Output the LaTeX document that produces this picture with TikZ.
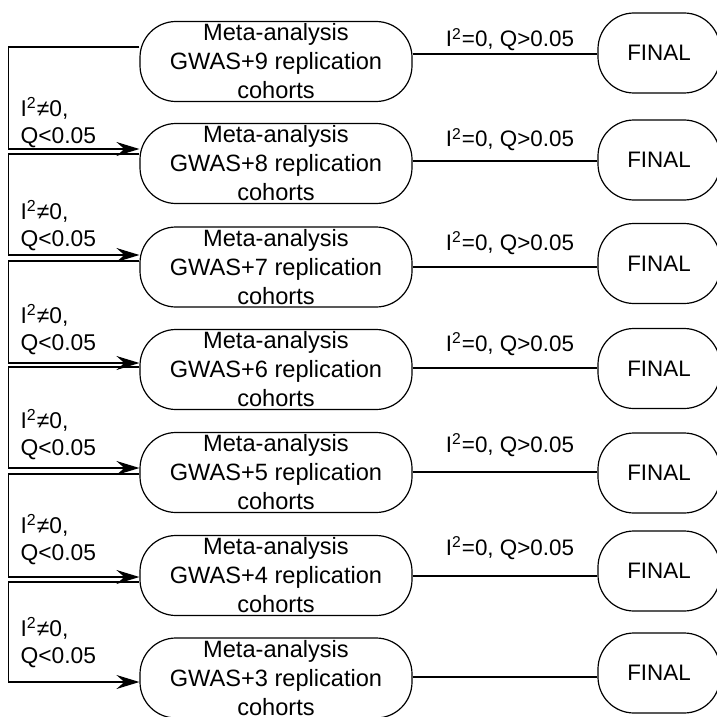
\documentclass[tikz,border=0pt]{standalone}
\usepackage{fontspec}
\setmainfont{Liberation Sans}
\usetikzlibrary{arrows.meta}

\tikzset{
    meta/.style={draw, rounded corners=18pt, minimum width=136pt, minimum height=40pt, inner sep=0pt, align=center, font=\fontsize{11.8}{14.5}\selectfont},
    final/.style={draw, rounded corners=18pt, minimum width=61pt, minimum height=40pt, inner sep=0pt},
    cond/.style={anchor=base, inner sep=0pt},
    retrylabel/.style={anchor=north west, inner sep=0pt, align=left, font=\fontsize{11.4}{13.5}\selectfont},
    retry/.style={-{Stealth[length=11.5pt, width=7pt, inset=4pt]}}
}

\begin{document}
\begin{tikzpicture}[x=0.5pt, y=-0.5pt, line width=0.6pt, font=\fontsize{11.2}{14.5}\selectfont]
    \useasboundingbox (0,0) rectangle (717,717);

    % Meta-analysis steps
    \node[meta] (m9) at (276,61.5) {Meta-analysis\\GWAS+9 replication\\cohorts};
    \node[meta] (m8) at (276,163.5) {Meta-analysis\\GWAS+8 replication\\cohorts};
    \node[meta] (m7) at (276,267) {Meta-analysis\\GWAS+7 replication\\cohorts};
    \node[meta] (m6) at (276,369.5) {Meta-analysis\\GWAS+6 replication\\cohorts};
    \node[meta] (m5) at (276,472.5) {Meta-analysis\\GWAS+5 replication\\cohorts};
    \node[meta] (m4) at (276,575.5) {Meta-analysis\\GWAS+4 replication\\cohorts};
    \node[meta] (m3) at (276,678) {Meta-analysis\\GWAS+3 replication\\cohorts};

    % Final results
    \node[final] (f9) at (659,53) {FINAL};
    \node[final] (f8) at (659,160) {FINAL};
    \node[final] (f7) at (659,263.5) {FINAL};
    \node[final] (f6) at (659,368.5) {FINAL};
    \node[final] (f5) at (659,473) {FINAL};
    \node[final] (f4) at (659,571) {FINAL};
    \node[final] (f3) at (659,673) {FINAL};

    % I^2=0 : straight to final
    \draw (m9.east |- 0,54) -- (f9.west |- 0,54);
    \draw (m8.east |- 0,161) -- (f8.west |- 0,161);
    \draw (m7.east |- 0,267) -- (f7.west |- 0,267);
    \draw (m6.east |- 0,368) -- (f6.west |- 0,368);
    \draw (m5.east |- 0,472) -- (f5.west |- 0,472);
    \draw (m4.east |- 0,576) -- (f4.west |- 0,576);
    \draw (m3.east |- 0,677) -- (f3.west |- 0,677);
    \node[cond] (c9) at (510,47) {I\textsuperscript{2}=0, Q>0.05};
    \node[cond] (c8) at (510,147) {I\textsuperscript{2}=0, Q>0.05};
    \node[cond] (c7) at (510,250) {I\textsuperscript{2}=0, Q>0.05};
    \node[cond] (c6) at (510,351) {I\textsuperscript{2}=0, Q>0.05};
    \node[cond] (c5) at (510,452) {I\textsuperscript{2}=0, Q>0.05};
    \node[cond] (c4) at (510,555) {I\textsuperscript{2}=0, Q>0.05};

    % I^2 != 0 : drop one cohort and redo
    \draw[retry] (m9.west |- 0,47) -- ++(-131,0) |- (m8.west |- 0,149);
    \draw[retry] (m8.west |- 0,154) -- ++(-131,0) |- (m7.west |- 0,255);
    \draw[retry] (m7.west |- 0,261) -- ++(-131,0) |- (m6.west |- 0,363);
    \draw[retry] (m6.west |- 0,367) -- ++(-131,0) |- (m5.west |- 0,468);
    \draw[retry] (m5.west |- 0,474) -- ++(-131,0) |- (m4.west |- 0,577);
    \draw[retry] (m4.west |- 0,582) -- ++(-131,0) |- (m3.west |- 0,682);
    \node[retrylabel] (r8) at (20,97) {I\textsuperscript{2}≠0,\\Q<0.05};
    \node[retrylabel] (r7) at (20,200) {I\textsuperscript{2}≠0,\\Q<0.05};
    \node[retrylabel] (r6) at (20,304) {I\textsuperscript{2}≠0,\\Q<0.05};
    \node[retrylabel] (r5) at (20,409) {I\textsuperscript{2}≠0,\\Q<0.05};
    \node[retrylabel] (r4) at (20,514) {I\textsuperscript{2}≠0,\\Q<0.05};
    \node[retrylabel] (r3) at (20,617) {I\textsuperscript{2}≠0,\\Q<0.05};
\end{tikzpicture}
\end{document}
